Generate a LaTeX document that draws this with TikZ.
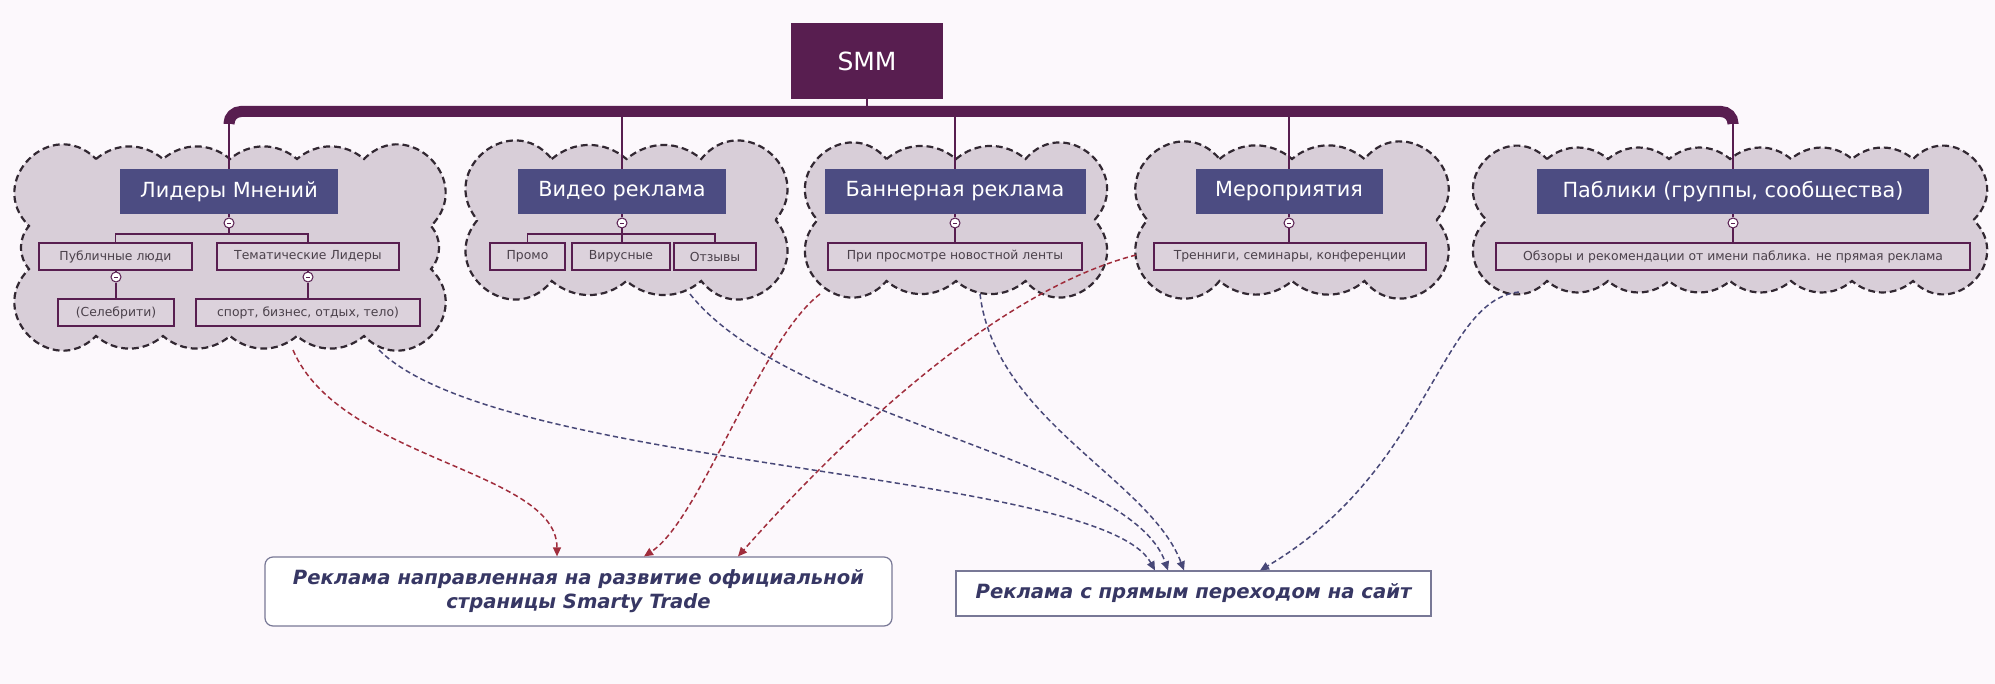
\documentclass[tikz,border=0pt]{standalone}
\usepackage{fontspec}
\setmainfont{DejaVu Sans}[BoldFont={DejaVu Sans Bold},ItalicFont={DejaVu Sans Oblique},BoldItalicFont={DejaVu Sans Bold Oblique}]
\usetikzlibrary{arrows.meta}
\definecolor{bg}{RGB}{252,248,252}
\definecolor{plum}{RGB}{88,30,80}
\definecolor{hdr}{RGB}{76,76,130}
\definecolor{cloudfill}{RGB}{216,206,216}
\definecolor{subfill}{RGB}{220,210,220}
\definecolor{cloudline}{RGB}{50,40,50}
\definecolor{subtext}{RGB}{75,65,75}
\definecolor{redarr}{RGB}{160,45,60}
\definecolor{bluearr}{RGB}{72,72,120}
\definecolor{btext}{RGB}{55,55,100}
\definecolor{bborder}{RGB}{120,120,150}
\tikzset{
 cloudst/.style={fill=cloudfill,draw=cloudline,line width=1.1pt,dash pattern=on 3.4pt off 2pt},
 hdrbox/.style={fill=hdr,text=white,inner sep=0pt,minimum height=22.5pt,font=\fontsize{10.4}{12}\selectfont},
 subbox/.style={draw=plum,line width=0.9pt,fill=subfill,text=subtext,inner sep=0pt,minimum height=13.5pt,font=\fontsize{6.2}{7}\selectfont},
 knob/.style={circle,draw=plum,fill=white,line width=0.5pt,inner sep=0pt,minimum size=5pt,
   path picture={\draw[plum,line width=0.4pt] ([xshift=-1.1pt]path picture bounding box.center) -- ([xshift=1.1pt]path picture bounding box.center);}},
 tree/.style={draw=plum,line width=0.9pt},
 stem/.style={draw=plum,line width=1pt},
 redlink/.style={draw=redarr,line width=0.75pt,dash pattern=on 2.6pt off 1.6pt,-{Triangle[length=4.5pt,width=4pt]}},
 bluelink/.style={draw=bluearr,line width=0.75pt,dash pattern=on 2.6pt off 1.6pt,-{Triangle[length=4.5pt,width=4pt]}},
 target/.style={fill=white,draw=bborder,line width=0.6pt,text=btext,font=\bfseries\itshape\fontsize{9.8}{12}\selectfont,align=center,inner sep=0pt},
}
\newcommand\mycloud[5]{%
 \pgfmathsetmacro\clxa{#1+13}\pgfmathsetmacro\clya{#2+12}%
 \pgfmathsetmacro\clxb{#3-13}\pgfmathsetmacro\clyb{#4-12}%
 \pgfmathsetmacro\cla{(\clxb-\clxa)/(#5+2)}%
 \pgfmathsetmacro\clb{min(\cla,(\clyb-\clya-1)/2)}%
 \pgfmathsetmacro\cldy{\clyb-\clya-2*\clb}%
 \draw[cloudst] (\clxa+\cla,\clya)
   foreach \i in {1,...,#5}{ to[bend left=40] ++(\cla,0)}
   to[bend left=90,looseness=1.7] ++(\cla,\clb)
   to[bend left=40] ++(0,\cldy)
   to[bend left=90,looseness=1.7] ++(-\cla,\clb)
   foreach \i in {1,...,#5}{ to[bend left=40] ++(-\cla,0)}
   to[bend left=90,looseness=1.7] ++(-\cla,-\clb)
   to[bend left=40] ++(0,-\cldy)
   to[bend left=90,looseness=1.7] (\clxa+\cla,\clya) -- cycle;
}
\begin{document}
\begin{tikzpicture}[x=0.5pt,y=-0.5pt]
\fill[bg] (0,0) rectangle (1995,684);
\useasboundingbox (0,0) rectangle (1995,684);

% clouds
\mycloud{16}{147}{444}{348}{4}
\mycloud{464}{147}{789}{293}{2}
\mycloud{804}{147}{1108}{293}{2}
\mycloud{1134}{147}{1450}{293}{2}
\mycloud{1473}{147}{1987}{293}{6}

% top node
\node[fill=plum,text=white,inner sep=0pt,minimum width=76pt,minimum height=38pt,font=\fontsize{12.5}{14}\selectfont] (smm) at (867,61) {SMM};

% headers
\node[hdrbox,minimum width=109pt] (h1) at (229,191.5) {Лидеры Мнений};
\node[hdrbox,minimum width=104pt] (h2) at (622,191.5) {Видео реклама};
\node[hdrbox,minimum width=130.5pt] (h3) at (955,191.5) {Баннерная реклама};
\node[hdrbox,minimum width=93.5pt] (h4) at (1289,191.5) {Мероприятия};
\node[hdrbox,minimum width=196pt] (h5) at (1733,191.5) {Паблики (группы, сообщества)};

% bus bar
\coordinate (busL) at (229,111.5);
\coordinate (busR) at (1733,111.5);
\coordinate (bus) at (0,116);
\draw[plum,line width=5.5pt,rounded corners=6pt] (229,124) -- (busL) -- (busR) -- (1733,124);
\draw[stem] (smm.south) -- (smm.south |- busL);
\foreach \h in {h1,h2,h3,h4,h5}{\draw[stem] (\h.north |- bus) -- (\h.north);}

% sub boxes
\node[subbox,minimum width=76.5pt] (s11) at (115.5,256.5) {Публичные люди};
\node[subbox,minimum width=91pt] (s12) at (308,256.5) {Тематические Лидеры};
\node[subbox,minimum width=58pt] (s13) at (116,312.5) {(Селебрити)};
\node[subbox,minimum width=112pt] (s14) at (308,312.5) {спорт, бизнес, отдых, тело)};
\node[subbox,minimum width=37.5pt] (s21) at (527.5,256.5) {Промо};
\node[subbox,minimum width=49pt] (s22) at (621,256.5) {Вирусные};
\node[subbox,minimum width=41pt] (s23) at (715,256.5) {Отзывы};
\node[subbox,minimum width=127pt] (s31) at (955,256.5) {При просмотре новостной ленты};
\node[subbox,minimum width=136pt] (s41) at (1290,256.5) {Тренниги, семинары, конференции};
\node[subbox,minimum width=237pt] (s51) at (1733,256.5) {Обзоры и рекомендации от имени паблика. не прямая реклама};

% knobs
\node[knob] (k1) at (229,223) {};
\node[knob] (k2) at (622,223) {};
\node[knob] (k3) at (955,223) {};
\node[knob] (k4) at (1289,223) {};
\node[knob] (k5) at (1733,223) {};
\node[knob] (k11) at (116,277) {};
\node[knob] (k12) at (308,277) {};

% tree lines
\coordinate (j1) at (229,234);
\coordinate (j2) at (622,234);
\draw[tree] (h1.south) -- (k1);
\draw[tree] (k1) -- (j1);
\draw[tree] (s11.north) |- (j1) -| (s12.north);
\draw[tree] (s11.south -| k11) -- (k11);
\draw[tree] (k11) -- (k11 |- s13.north);
\draw[tree] (s12.south) -- (k12);
\draw[tree] (k12) -- (s14.north);
\draw[tree] (h2.south) -- (k2);
\draw[tree] (k2) -- (k2 |- s22.north);
\draw[tree] (s21.north) |- (j2) -| (s23.north);
\draw[tree] (h3.south) -- (k3);
\draw[tree] (k3) -- (k3 |- s31.north);
\draw[tree] (h4.south) -- (k4);
\draw[tree] (k4) -- (k4 |- s41.north);
\draw[tree] (h5.south) -- (k5);
\draw[tree] (k5) -- (s51.north);

% targets
\node[target,rounded corners=4pt,minimum width=313.5pt,minimum height=34.5pt] (b1) at (578.5,591.5) {Реклама направленная на развитие официальной\\страницы Smarty Trade};
\node[target,minimum width=237.5pt,minimum height=22.5pt] (b2) at (1193.5,593.5) {Реклама с прямым переходом на сайт};

% arrow origins
\coordinate (o1) at (293,350);
\coordinate (o2) at (820,294);
\coordinate (o3) at (1136,255);
\coordinate (o4) at (379,350);
\coordinate (o5) at (690,294);
\coordinate (o6) at (980,294);
\coordinate (o7) at (1519,292);

\draw[redlink] (o1) .. controls (340,460) and (557,470) .. ([xshift=-10.75pt]b1.north);
\draw[redlink] (o2) .. controls (760,340) and (700,520) .. ([xshift=32.75pt]b1.north);
\draw[redlink] (o3) .. controls (1000,290) and (850,430) .. ([xshift=79.75pt]b1.north);
\draw[bluelink] (o4) .. controls (500,470) and (1100,470) .. ([xshift=-19.25pt]b2.north);
\draw[bluelink] (o5) .. controls (790,420) and (1130,460) .. ([xshift=-12.75pt]b2.north);
\draw[bluelink] (o6) .. controls (995,420) and (1150,480) .. ([xshift=-4.75pt]b2.north);
\draw[bluelink] (o7) .. controls (1440,300) and (1430,470) .. ([xshift=33.25pt]b2.north);
\end{tikzpicture}
\end{document}
